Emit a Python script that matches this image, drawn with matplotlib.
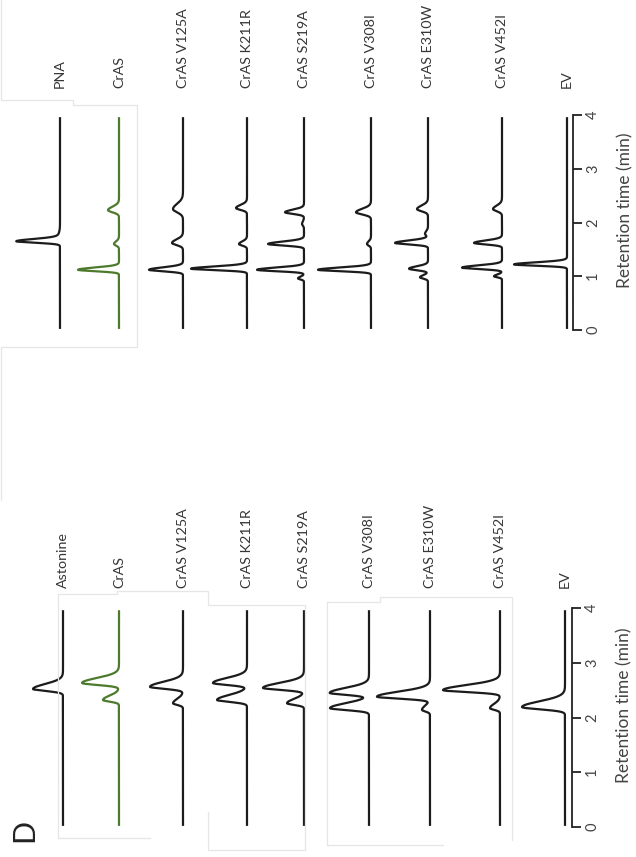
import numpy as np
import matplotlib
matplotlib.use("Agg")
import matplotlib.pyplot as plt
from matplotlib.lines import Line2D

plt.rcParams['font.family'] = ['Lato', 'DejaVu Sans']

W, H = 636, 857

# ---------------- data ----------------
# Each peak: (retention time [min], height [signal units], sigma [min])
top_labels = ["PNA", "CrAS", "CrAS V125A", "CrAS K211R", "CrAS S219A",
              "CrAS V308I", "CrAS E310W", "CrAS V452I", "EV"]
top_peaks = [
    [(1.65, 43, 0.026), (1.72, 2, 0.05)],
    [(1.12, 41, 0.026), (1.60, 5, 0.03), (2.23, 11, 0.04)],
    [(1.12, 34, 0.028), (1.62, 11, 0.04), (2.25, 10, 0.06)],
    [(1.14, 56, 0.026), (1.60, 8, 0.03), (2.27, 11, 0.035)],
    [(0.96, 6, 0.02), (1.12, 47, 0.026), (1.60, 36, 0.028), (1.97, 2, 0.03), (2.19, 19, 0.03)],
    [(1.12, 53, 0.026), (1.60, 4, 0.03), (2.19, 15, 0.04)],
    [(0.98, 8, 0.025), (1.14, 19, 0.028), (1.62, 33, 0.028), (1.79, 3, 0.03), (2.25, 11, 0.04)],
    [(1.00, 8, 0.02), (1.16, 40, 0.026), (1.62, 28, 0.028), (2.25, 9, 0.04)],
    [(1.22, 53, 0.024)],
]

bottom_labels = ["Astonine", "CrAS", "CrAS V125A", "CrAS K211R", "CrAS S219A",
                 "CrAS V308I", "CrAS E310W", "CrAS V452I", "EV"]
bottom_peaks = [
    [(2.52, 30, 0.035)],
    [(2.32, 16, 0.03), (2.63, 37, 0.035)],
    [(2.26, 10, 0.03), (2.56, 33, 0.035)],
    [(2.32, 30, 0.035), (2.63, 34, 0.035)],
    [(2.26, 17, 0.03), (2.54, 41, 0.035)],
    [(2.17, 39, 0.035), (2.45, 39, 0.035)],
    [(2.14, 8, 0.03), (2.38, 53, 0.035)],
    [(2.17, 10, 0.03), (2.50, 57, 0.035)],
    [(2.19, 43, 0.04)],
]

time_ticks = [0, 1, 2, 3, 4]

# ---------------- layout / style ----------------
top_lanes = [60, 119, 183, 247, 304, 371, 428, 502, 567]
bottom_lanes = [63, 119, 183, 247, 304, 369, 430, 500, 565]
lane_colors = ["#1c1c1c", "#4d7a2c"] + ["#1c1c1c"] * 7
TEXT = "#363636"


def trace(t, peaks, tail):
    sig = np.zeros_like(t)
    for t0, h, s in peaks:
        width = np.where(t < t0, s, s * tail)
        sig += h * np.exp(-0.5 * ((t - t0) / width) ** 2)
    return sig


def panel(px_t0, px_t4, lanes, labels, peaks, tail, label_t, axis_px, title_t):
    bottom = (H - px_t0) / H
    height = (px_t0 - px_t4) / H
    ax = fig.add_axes([0, bottom, 1, height])
    ax.patch.set_visible(False)
    ax.set_xlim(0, W)
    ax.set_ylim(0, 4)
    for side in ("left", "top", "bottom"):
        ax.spines[side].set_visible(False)
    ax.set_xticks([])
    ax.spines["right"].set_position(("data", axis_px))
    ax.spines["right"].set_bounds(0, 4)
    ax.spines["right"].set_linewidth(1.3)
    ax.spines["right"].set_color("#222222")
    ax.yaxis.tick_right()
    ax.set_yticks(time_ticks)
    ax.tick_params(axis="y", direction="out", length=6.5, width=1.3,
                   color="#222222", labelsize=10.5, labelcolor="#444444", pad=3)
    for lbl in ax.get_yticklabels():
        lbl.set_rotation(90)
        lbl.set_va("center")
        lbl.set_ha("left")

    t = np.linspace(0.02, 3.96, 1600)
    for x0, lab, pk, col in zip(lanes, labels, peaks, lane_colors):
        sig = trace(t, pk, tail)
        ax.plot(x0 - sig, t, color=col, lw=1.6, solid_capstyle="butt", clip_on=False)
        ax.text(x0, label_t, lab, rotation=90, rotation_mode="anchor",
                ha="left", va="center", fontsize=10.3, color=TEXT, clip_on=False)

    ax.text(axis_px + 52, title_t, "Retention time (min)", rotation=90,
            ha="center", va="center", fontsize=12.5, color="#444444")
    return ax


fig = plt.figure(figsize=(W / 100, H / 100), dpi=100)
fig.patch.set_facecolor("white")

# faint outlines of the pasted sub-images
box_color = "#e6e6e6"
outlines = [
    [(0.5, 0), (0.5, 100), (73, 100), (73, 105), (137, 105), (137, 347), (0.5, 347), (0.5, 500)],
    [(58, 838), (58, 594), (117, 594), (117, 591), (208, 591), (208, 605), (305, 605),
     (305, 850), (208, 850), (208, 812)],
    [(58, 838), (150, 838)],
    [(327, 845), (327, 602), (380, 602), (380, 597), (512, 597), (512, 840)],
    [(327, 845), (443, 845)],
]
for pts in outlines:
    xs = [p[0] / W for p in pts]
    ys = [1 - p[1] / H for p in pts]
    fig.add_artist(Line2D(xs, ys, transform=fig.transFigure, color=box_color, lw=0.9))

panel(330, 115, top_lanes, top_labels, top_peaks, 1.6,
      (330 - 88) / 53.75, 573, 2.23)
panel(827, 608, bottom_lanes, bottom_labels, bottom_peaks, 2.6,
      (827 - 588) / 54.75, 572, 2.23)

fig.text(24 / W, 1 - 830 / H, "D", rotation=90, ha="center", va="center",
         fontsize=22, color="#222222")

fig.savefig("out.png", dpi=100, facecolor="white")
